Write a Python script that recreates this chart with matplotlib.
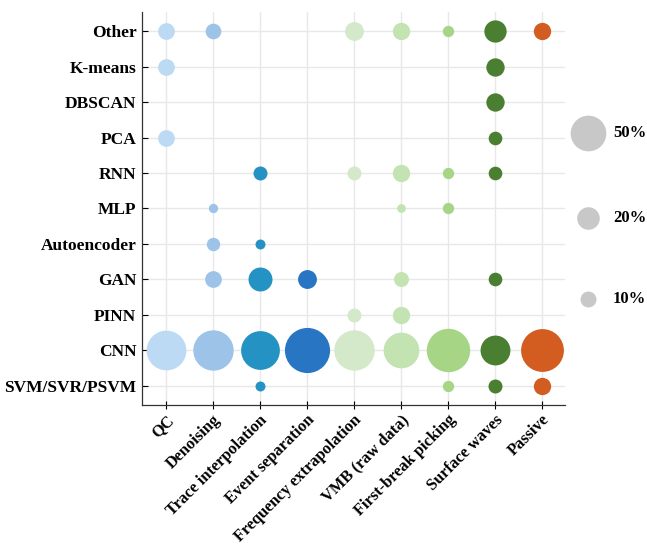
import matplotlib.pyplot as plt

methods = ['SVM/SVR/PSVM', 'CNN', 'PINN', 'GAN', 'Autoencoder', 'MLP',
           'RNN', 'PCA', 'DBSCAN', 'K-means', 'Other']
tasks = ['QC', 'Denoising', 'Trace interpolation', 'Event separation',
         'Frequency extrapolation', 'VMB (raw data)', 'First-break picking',
         'Surface waves', 'Passive']
colors = ['#bcdaf3', '#9dc3e8', '#2493c4', '#2876c3', '#d3e9c9',
          '#c3e3b3', '#a5d585', '#4a7e31', '#d35d20']

# share (%) of each method within each task, rows follow `methods`
share = {
    'QC':                      [0, 62, 0, 0, 0, 0, 0, 11, 0, 11, 11],
    'Denoising':               [0, 64, 0, 11, 7, 3.4, 0, 0, 0, 0, 9.6],
    'Trace interpolation':     [3.9, 59, 0, 22.6, 3.9, 0, 7.7, 0, 0, 0, 0],
    'Event separation':        [0, 80, 0, 14, 0, 0, 0, 0, 0, 0, 0],
    'Frequency extrapolation': [0, 64, 7.7, 0, 0, 0, 7.7, 0, 0, 0, 14],
    'VMB (raw data)':          [0, 50, 11.8, 8.8, 0, 3, 11.8, 0, 0, 0, 11.8],
    'First-break picking':     [5, 74, 0, 0, 0, 5, 5, 0, 0, 0, 5],
    'Surface waves':           [7.7, 35, 0, 7.3, 0, 0, 7.3, 7.3, 13.2, 13.2, 19.5],
    'Passive':                 [11.8, 72, 0, 0, 0, 0, 0, 0, 0, 0, 11.8],
}
legend_pct = [50, 20, 10]

SCALE = 13.2  # marker area (pt^2) per percent

plt.rcParams['font.family'] = ['Liberation Serif', 'DejaVu Serif']
plt.rcParams['font.weight'] = 'bold'

fig = plt.figure(figsize=(6.47, 5.44), dpi=100)
ax = fig.add_axes([142 / 647, 139 / 544, 423 / 647, 393 / 544])

for i, task in enumerate(tasks):
    for j, val in enumerate(share[task]):
        if val > 0:
            ax.scatter(i, j, s=val * SCALE, color=colors[i], linewidths=0, zorder=3)

ax.set_xlim(-0.5, 8.5)
ax.set_ylim(-0.54, 10.54)
ax.set_xticks(range(len(tasks)))
ax.set_xticklabels(tasks, rotation=45, ha='right', rotation_mode='anchor',
                   fontsize=11.8, fontweight='bold')
ax.set_yticks(range(len(methods)))
ax.set_yticklabels(methods, fontsize=12.5, fontweight='bold')
ax.tick_params(axis='x', direction='inout', length=6, width=0.8, pad=2)
ax.tick_params(axis='y', direction='in', length=4, width=0.8, pad=4)
ax.grid(True, color='#e8e8e8', linewidth=1, zorder=0)
ax.set_axisbelow(True)
for side in ['top', 'right']:
    ax.spines[side].set_visible(False)
for side in ['left', 'bottom']:
    ax.spines[side].set_linewidth(0.9)
    ax.spines[side].set_color('#333333')

# bubble size key
lax = fig.add_axes([570 / 647, 230 / 544, 77 / 647, 200 / 544])
lax.set_xlim(0, 77)
lax.set_ylim(0, 200)
lax.axis('off')
key_y = [200 - (133 - 114), 200 - (218 - 114), 200 - (299 - 114)]
for pct, yy in zip(legend_pct, key_y):
    lax.scatter(18, yy, s=pct * SCALE, color='#c8c8c8', linewidths=0, clip_on=False)
    lax.text(43, yy, f'{pct}%', va='center', ha='left', fontsize=12,
             fontweight='bold')

fig.savefig('out.png', dpi=100)
